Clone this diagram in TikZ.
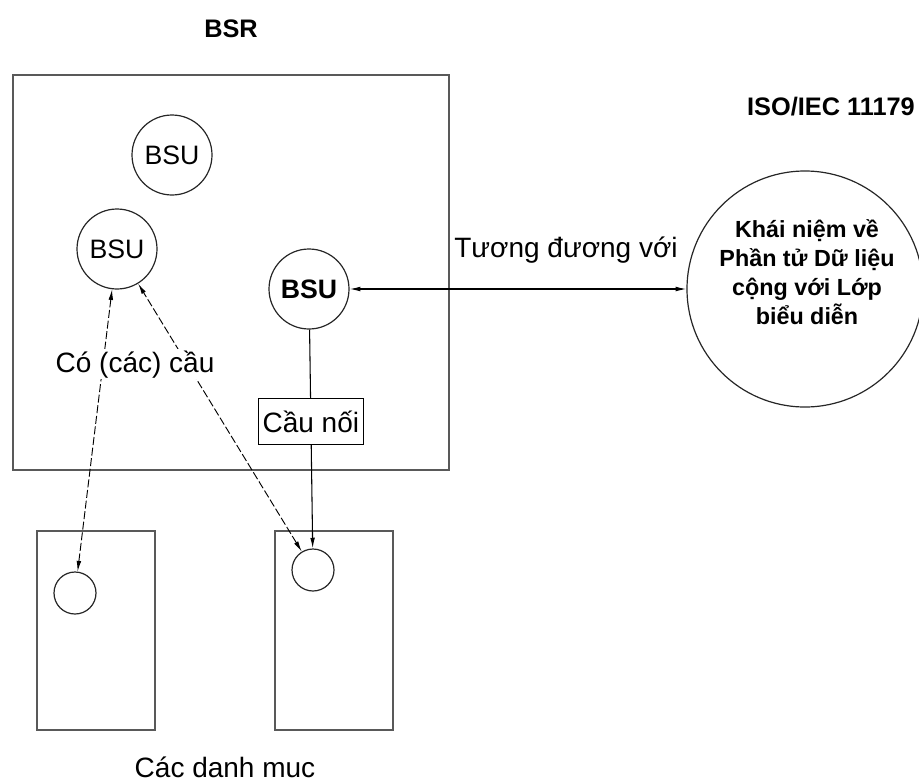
\documentclass[tikz,border=0pt]{standalone}
\usepackage{fontspec}
\setmainfont{Liberation Sans}
\usetikzlibrary{arrows.meta,positioning}
\tikzset{
  boxline/.style={draw=black!65,line width=1.3pt},
  bsu/.style={draw=black!85,circle,line width=0.9pt,minimum size=60pt,inner sep=0pt,
    font=\fontsize{20}{24}\selectfont},
  smallc/.style={draw=black!85,circle,line width=0.9pt,minimum size=31.5pt,inner sep=0pt},
  lbl/.style={font=\fontsize{21}{25}\selectfont,inner sep=1pt},
  title/.style={font=\bfseries\fontsize{19}{23}\selectfont,inner sep=0pt},
  dsh/.style={dash pattern=on 6pt off 2pt,line width=0.7pt}
}
\begin{document}
\begin{tikzpicture}[x=0.75pt,y=-0.75pt,>={Latex[length=8pt,width=3.5pt]}]
  \useasboundingbox (0,0) rectangle (919,782);
  % registry
  \node[title,anchor=base] (bsr) at (231,37) {BSR};
  \draw[boxline] (13,75) rectangle (449,470);
  \node[bsu] (bsu1) at (172,155) {BSU};
  \node[bsu] (bsu2) at (117,249) {BSU};
  \node[bsu,font=\bfseries\fontsize{20}{24}\selectfont] (bsu3) at (309,289) {BSU};
  % ISO/IEC 11179 side
  \node[title,anchor=base east] (iso) at (915,115) {ISO/IEC 11179};
  \node[draw=black!85,circle,line width=0.9pt,minimum size=177pt] (dec) at (805,289) {};
  \node[align=center,font=\bfseries\fontsize{17.5}{21.75}\selectfont] (dectxt) at (807,272)
    {Khái niệm về\\Phần tử Dữ liệu\\cộng với Lớp\\biểu diễn};
  \draw[<->,line width=0.8pt] (bsu3) -- (dec);
  \node[lbl,anchor=base] (equiv) at (566,257) {Tương đương với};
  % catalogues
  \foreach \i/\x/\cy in {1/37/593,2/275/570}{
    \draw[boxline] (\x,531) rectangle ++(118,199);
    \node[smallc] (c\i) at (\x+38,\cy) {};
  }
  \node[lbl,anchor=base] (cat) at (225,777) {Các danh muc};
  \draw[->,line width=0.8pt] (bsu3) -- (c2)
    node[pos=0.42,draw,fill=white,line width=0.9pt,minimum height=35pt,inner xsep=3pt,
      font=\fontsize{21}{25}\selectfont] (bridge) {Cầu nối};
  \draw[<->,dsh] (c1) -- (bsu2);
  \draw[<->,dsh] (c2) -- (bsu2);
  \node[lbl,fill=white,anchor=base] (has) at (135,372) {Có (các) cầu};
\end{tikzpicture}
\end{document}
